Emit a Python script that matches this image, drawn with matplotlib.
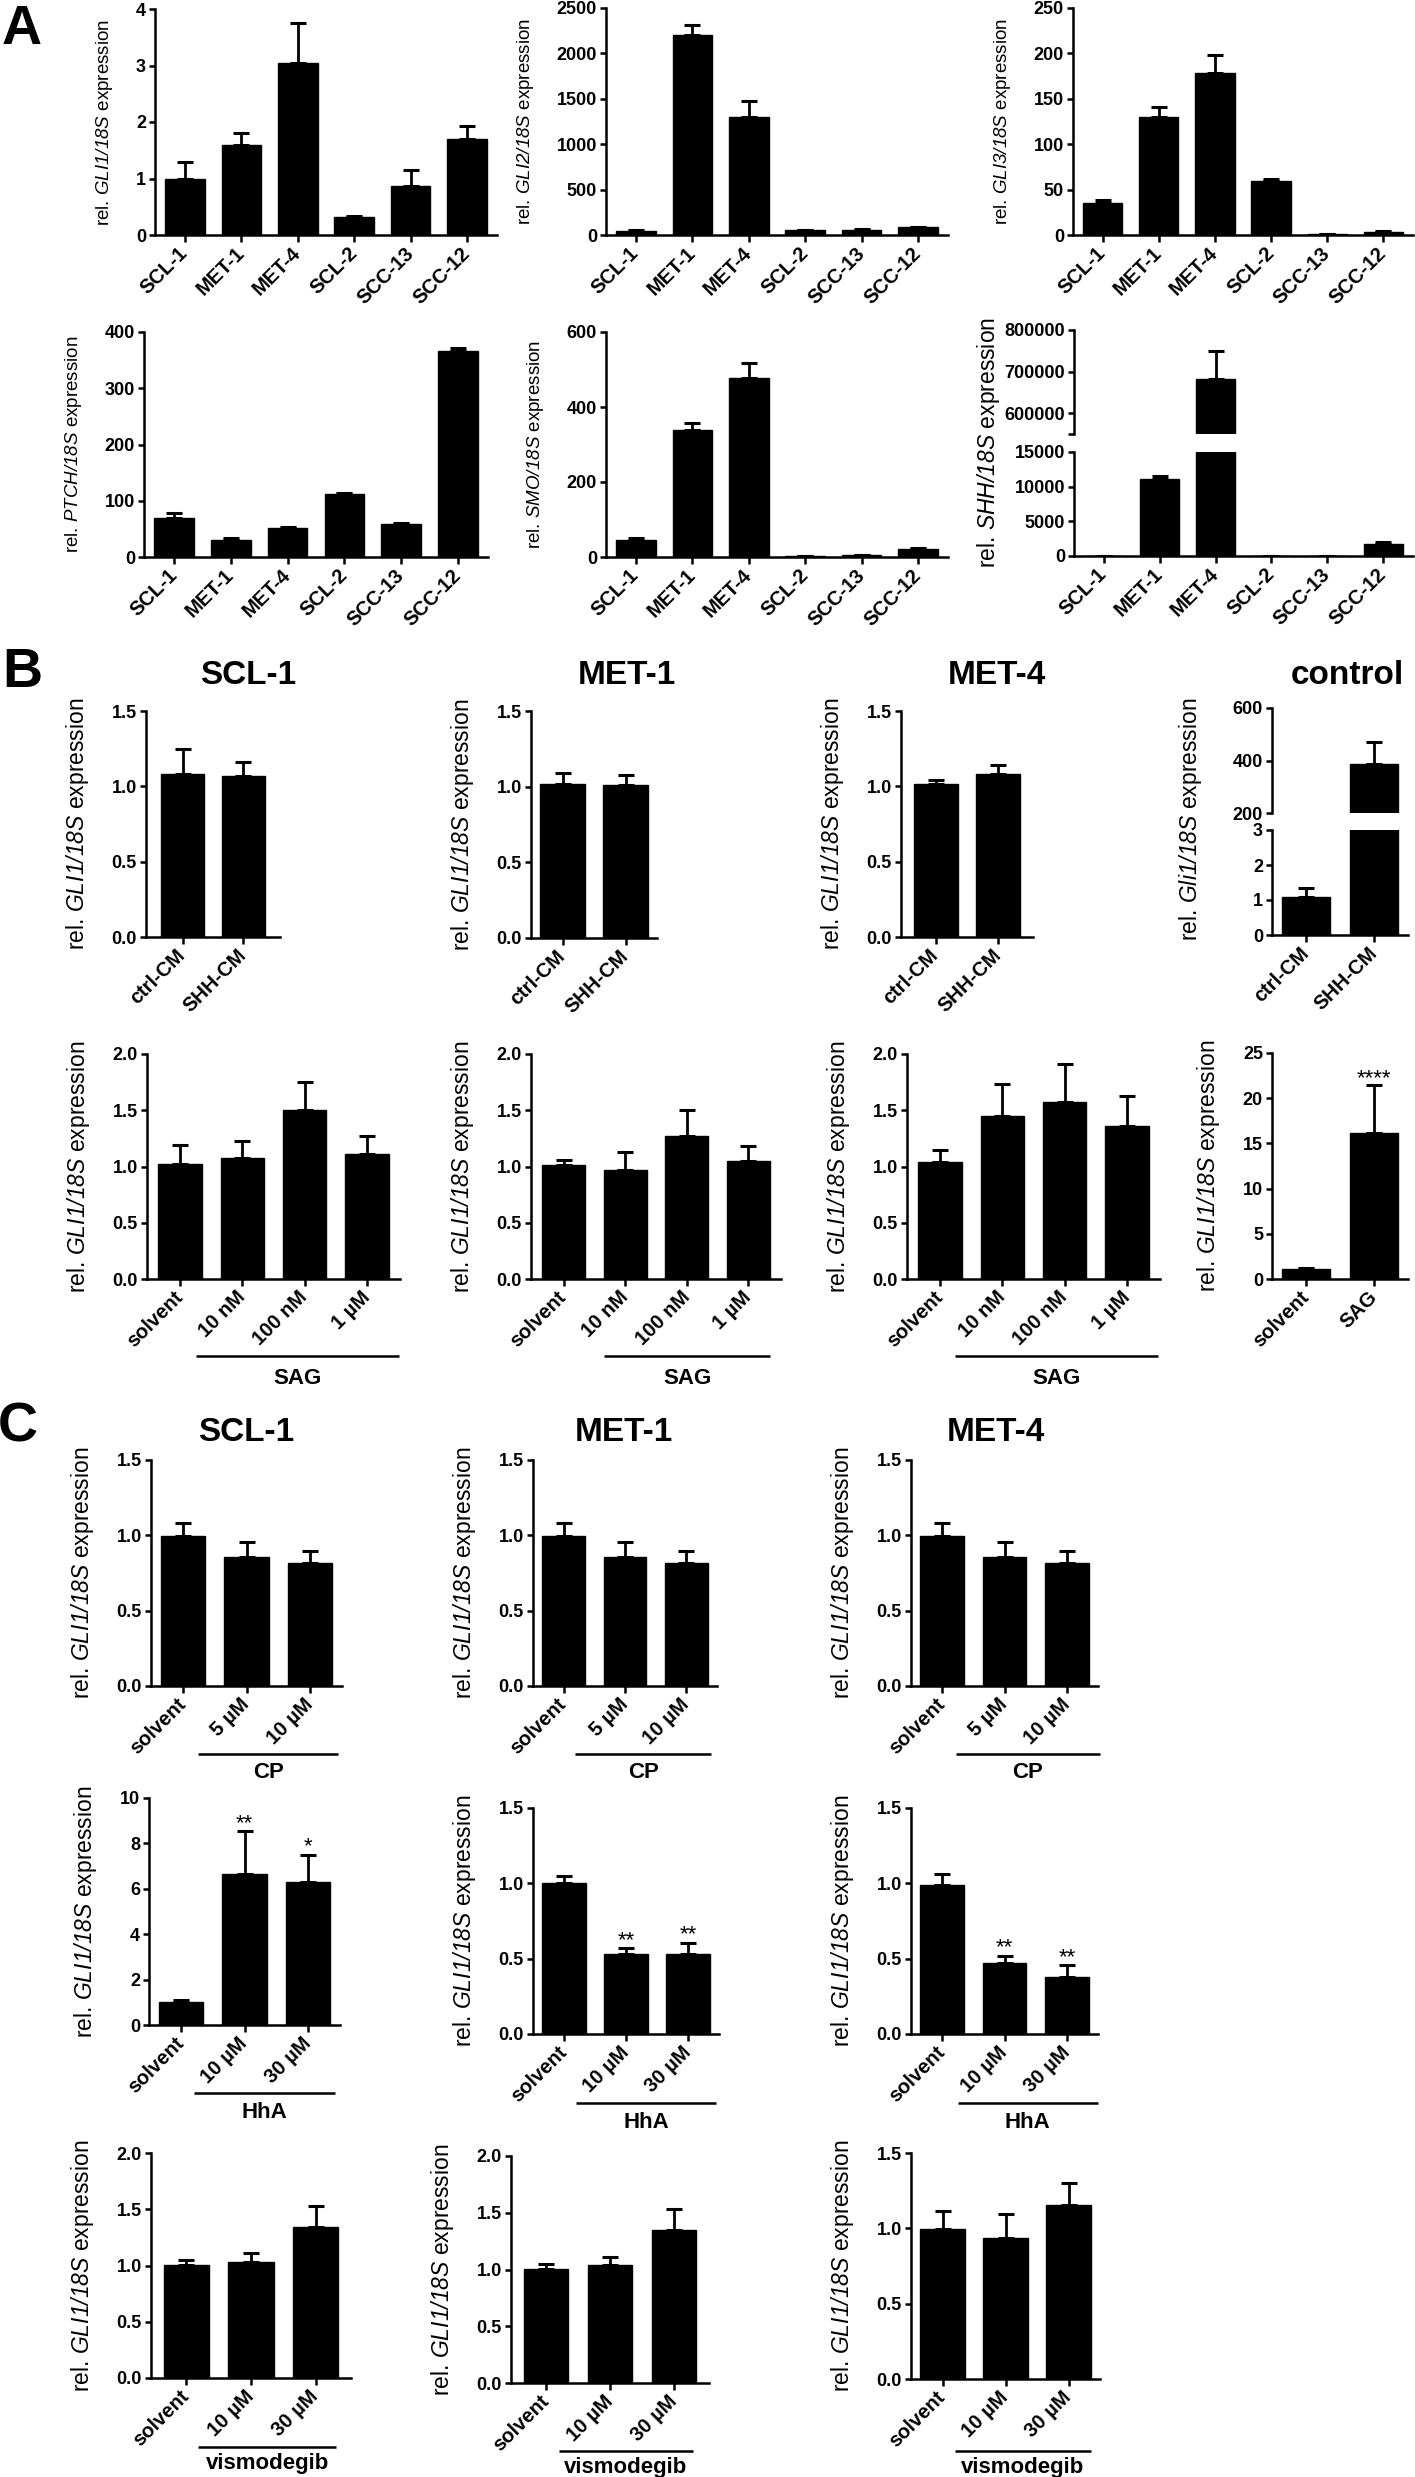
import numpy as np
import matplotlib
matplotlib.use("Agg")
import matplotlib.pyplot as plt
from matplotlib.transforms import blended_transform_factory

plt.rcParams.update({
    "font.family": "Liberation Sans",
    "mathtext.fontset": "custom",
    "mathtext.rm": "Liberation Sans:italic",
    "mathtext.it": "Liberation Sans:italic",
    "mathtext.bf": "Liberation Sans:bold",
    "axes.linewidth": 1.8,
    "xtick.major.width": 1.8,
    "ytick.major.width": 1.8,
    "xtick.major.size": 5,
    "ytick.major.size": 4.5,
})

# ---------------- data ----------------
CELLS_A = ["SCL-1", "MET-1", "MET-4", "SCL-2", "SCC-13", "SCC-12"]
GLI1 = [0.99, 1.60, 3.04, 0.31, 0.87, 1.70]
GLI1_ERR = [0.30, 0.20, 0.71, 0.03, 0.28, 0.23]
GLI2 = [45, 2200, 1300, 50, 55, 85]
GLI2_ERR = [8, 110, 180, 6, 10, 8]
GLI3 = [35, 130, 178, 60, 1, 3.5]
GLI3_ERR = [4, 11, 20, 1.5, 0.5, 1]
PTCH = [70, 31, 51, 112, 59, 367]
PTCH_ERR = [8, 2, 1.5, 1, 2, 5]
SMO = [45, 338, 478, 3, 5, 21]
SMO_ERR = [6, 20, 40, 0.5, 1, 2]
SHH = [5, 11100, 682000, 5, 40, 1730]
SHH_ERR = [0, 500, 68000, 0, 0, 240]

CM = ["ctrl-CM", "SHH-CM"]
CM_SCL1 = [1.08, 1.07]
CM_SCL1_ERR = [0.165, 0.09]
CM_MET1 = [1.02, 1.01]
CM_MET1_ERR = [0.07, 0.07]
CM_MET4 = [1.015, 1.08]
CM_MET4_ERR = [0.025, 0.06]
CM_CTRL = [1.09, 386]
CM_CTRL_ERR = [0.24, 86]

SAG_DOSES = ["solvent", "10 nM", "100 nM", "1 µM"]
SAG_SCL1 = [1.02, 1.08, 1.50, 1.11]
SAG_SCL1_ERR = [0.17, 0.15, 0.25, 0.16]
SAG_MET1 = [1.01, 0.97, 1.27, 1.05]
SAG_MET1_ERR = [0.05, 0.16, 0.23, 0.13]
SAG_MET4 = [1.04, 1.45, 1.57, 1.36]
SAG_MET4_ERR = [0.11, 0.28, 0.34, 0.27]
SAG_CTRL_LABELS = ["solvent", "SAG"]
SAG_CTRL = [1.1, 16.2]
SAG_CTRL_ERR = [0.08, 5.3]

CP_DOSES = ["solvent", "5 µM", "10 µM"]
CP_SCL1 = [0.995, 0.857, 0.817]
CP_SCL1_ERR = [0.085, 0.10, 0.077]
CP_MET1 = [0.995, 0.857, 0.817]
CP_MET1_ERR = [0.085, 0.10, 0.077]
CP_MET4 = [0.995, 0.857, 0.817]
CP_MET4_ERR = [0.085, 0.10, 0.077]

UM_DOSES = ["solvent", "10 µM", "30 µM"]
HHA_SCL1 = [1.0, 6.66, 6.29]
HHA_SCL1_ERR = [0.10, 1.87, 1.21]
HHA_MET1 = [1.004, 0.53, 0.53]
HHA_MET1_ERR = [0.046, 0.039, 0.076]
HHA_MET4 = [0.99, 0.47, 0.378]
HHA_MET4_ERR = [0.075, 0.05, 0.078]
HHA_SCL1_SIG = ["", "**", "*"]
HHA_MET1_SIG = ["", "**", "**"]
HHA_MET4_SIG = ["", "**", "**"]

VIS_SCL1 = [1.006, 1.035, 1.346]
VIS_SCL1_ERR = [0.044, 0.075, 0.184]
VIS_MET1 = [1.003, 1.04, 1.35]
VIS_MET1_ERR = [0.044, 0.07, 0.18]
VIS_MET4 = [0.996, 0.938, 1.155]
VIS_MET4_ERR = [0.119, 0.155, 0.145]

# ---------------- layout helpers ----------------
W, H = 1415, 2477
fig = plt.figure(figsize=(W / 100, H / 100), dpi=100)

TICK_FS = 13
XT_FS = 14.5
YL_SMALL = 13.5
YL_BIG = 16.5
GRP_FS = 16


def box(l, t, r, b):
    return fig.add_axes([l / W, 1 - b / H, (r - l) / W, (b - t) / H])


def style_axes(ax, n, pad=0.53, bottom=True):
    for s in ("top", "right"):
        ax.spines[s].set_visible(False)
    ax.set_xlim(-pad, n - 1 + pad)
    ax.tick_params(axis="y", direction="out", labelsize=TICK_FS, pad=2)
    if not bottom:
        ax.spines["bottom"].set_visible(False)
        ax.tick_params(axis="x", bottom=False, labelbottom=False)


def draw_bars(ax, vals, errs):
    x = np.arange(len(vals))
    ax.bar(x, vals, width=0.7, color="black", edgecolor="black", zorder=2)
    ax.errorbar(x, vals, yerr=[np.zeros(len(errs)), errs], fmt="none",
                ecolor="black", elinewidth=2.0, capsize=5.5, capthick=2.2,
                zorder=1)
    return x


def set_y(ax, ylim, ticks, fmt="{:g}", labels=None):
    ax.set_ylim(*ylim)
    ax.set_yticks(ticks)
    if labels is None:
        labels = [fmt.format(t) for t in ticks]
    ax.set_yticklabels(labels, fontweight="bold", fontsize=TICK_FS)


def set_x(ax, labels):
    ax.set_xticks(np.arange(len(labels)))
    ax.set_xticklabels(labels, rotation=45, ha="right", va="center",
                       rotation_mode="anchor", fontweight="bold",
                       fontsize=XT_FS)
    ax.tick_params(axis="x", direction="out", pad=6)


def gene_label(gene):
    return r"rel. $" + gene + "/18S$ expression"


def ylabel(ax, gene, size, pad=15):
    ax.set_ylabel(gene_label(gene), fontsize=size, labelpad=pad)


def fig_ylabel(xpx, ypx, gene, size):
    fig.text(xpx / W, 1 - ypx / H, gene_label(gene), rotation=90,
             ha="center", va="center", fontsize=size)


def simple_panel(pos, labels, vals, errs, ylim, ticks, gene, size,
                 fmt="{:g}", pad=0.53):
    ax = box(*pos)
    draw_bars(ax, vals, errs)
    style_axes(ax, len(vals), pad=pad)
    set_y(ax, ylim, ticks, fmt)
    set_x(ax, labels)
    ylabel(ax, gene, size)
    return ax


def group(ax, x0, x1, y_line, label, y_text):
    tr = blended_transform_factory(ax.transData, fig.transFigure)
    ax.plot([x0, x1], [1 - y_line / H] * 2, transform=tr, color="black",
            lw=1.8, clip_on=False, solid_capstyle="butt")
    ax.text((x0 + x1) / 2, 1 - y_text / H, label, transform=tr, ha="center",
            va="center", fontsize=GRP_FS, fontweight="bold")


def stars(ax, vals, errs, sig, dy=0):
    for i, s in enumerate(sig):
        if s:
            ax.annotate(s, (i, vals[i] + errs[i]), xytext=(0, dy),
                        textcoords="offset points", ha="center", va="bottom",
                        fontsize=16)


def title(xpx, ypx, txt):
    fig.text(xpx / W, 1 - ypx / H, txt, ha="center", va="center",
             fontsize=24, fontweight="bold")


def letter(xpx, ypx, txt):
    fig.text(xpx / W, 1 - ypx / H, txt, ha="center", va="center",
             fontsize=40, fontweight="bold")


# ---------------- panel A ----------------
letter(22, 30, "A")
simple_panel((155, 9, 497, 235), CELLS_A, GLI1, GLI1_ERR, (0, 4),
             [0, 1, 2, 3, 4], "GLI1", YL_SMALL)
simple_panel((606, 8, 948, 235), CELLS_A, GLI2, GLI2_ERR, (0, 2500),
             [0, 500, 1000, 1500, 2000, 2500], "GLI2", YL_SMALL)
simple_panel((1073, 8, 1413, 235), CELLS_A, GLI3, GLI3_ERR, (0, 250),
             [0, 50, 100, 150, 200, 250], "GLI3", YL_SMALL)
simple_panel((144, 332, 488, 557), CELLS_A, PTCH, PTCH_ERR, (0, 400),
             [0, 100, 200, 300, 400], "PTCH", YL_SMALL)
simple_panel((606, 332, 948, 557), CELLS_A, SMO, SMO_ERR, (0, 600),
             [0, 200, 400, 600], "SMO", YL_SMALL)

# SHH, broken axis
ax_t = box(1074, 330, 1413, 434)
ax_b = box(1074, 452, 1413, 556)
for ax in (ax_t, ax_b):
    draw_bars(ax, SHH, SHH_ERR)
style_axes(ax_t, len(SHH), bottom=False)
style_axes(ax_b, len(SHH))
set_y(ax_t, (550000, 800000), [550000, 600000, 700000, 800000],
      labels=["", "600000", "700000", "800000"])
set_y(ax_b, (0, 15000), [0, 5000, 10000, 15000])
set_x(ax_b, CELLS_A)
fig_ylabel(988, 443, "SHH", YL_BIG)

# ---------------- panel B ----------------
letter(22, 673, "B")
for xc, name in [(248, "SCL-1"), (627, "MET-1"), (997, "MET-4"),
                 (1347, "control")]:
    title(xc, 675, name)

simple_panel((146, 711, 280, 937), CM, CM_SCL1, CM_SCL1_ERR, (0, 1.5),
             [0, 0.5, 1.0, 1.5], "GLI1", YL_BIG, fmt="{:.1f}", pad=0.6)
simple_panel((531, 711, 657, 938), CM, CM_MET1, CM_MET1_ERR, (0, 1.5),
             [0, 0.5, 1.0, 1.5], "GLI1", YL_BIG, fmt="{:.1f}", pad=0.5)
simple_panel((901, 711, 1033, 937), CM, CM_MET4, CM_MET4_ERR, (0, 1.5),
             [0, 0.5, 1.0, 1.5], "GLI1", YL_BIG, fmt="{:.1f}", pad=0.55)

ax_t = box(1272, 708, 1408, 813)
ax_b = box(1272, 830, 1408, 935)
for ax in (ax_t, ax_b):
    draw_bars(ax, CM_CTRL, CM_CTRL_ERR)
style_axes(ax_t, 2, pad=0.5, bottom=False)
style_axes(ax_b, 2, pad=0.5)
set_y(ax_t, (200, 600), [200, 400, 600])
set_y(ax_b, (0, 3), [0, 1, 2, 3])
set_x(ax_b, CM)
fig_ylabel(1191, 819, "Gli1", YL_BIG)

ax = simple_panel((147, 1054, 400, 1279), SAG_DOSES, SAG_SCL1, SAG_SCL1_ERR,
                  (0, 2.0), [0, 0.5, 1.0, 1.5, 2.0], "GLI1", YL_BIG,
                  fmt="{:.1f}", pad=0.53)
group(ax, 0.26, 3.52, 1356, "SAG", 1378)
ax = simple_panel((531, 1054, 781, 1279), SAG_DOSES, SAG_MET1, SAG_MET1_ERR,
                  (0, 2.0), [0, 0.5, 1.0, 1.5, 2.0], "GLI1", YL_BIG,
                  fmt="{:.1f}", pad=0.53)
group(ax, 0.66, 3.35, 1356, "SAG", 1378)
ax = simple_panel((907, 1054, 1160, 1279), SAG_DOSES, SAG_MET4, SAG_MET4_ERR,
                  (0, 2.0), [0, 0.5, 1.0, 1.5, 2.0], "GLI1", YL_BIG,
                  fmt="{:.1f}", pad=0.53)
group(ax, 0.24, 3.49, 1356, "SAG", 1378)
ax = simple_panel((1272, 1053, 1408, 1279), SAG_CTRL_LABELS, SAG_CTRL,
                  SAG_CTRL_ERR, (0, 25), [0, 5, 10, 15, 20, 25], "GLI1",
                  YL_BIG, pad=0.5)
stars(ax, SAG_CTRL, SAG_CTRL_ERR, ["", "****"], dy=-3)

# ---------------- panel C ----------------
letter(18, 1427, "C")
for xc, name in [(246, "SCL-1"), (624, "MET-1"), (996, "MET-4")]:
    title(xc, 1433, name)

cp_rows = [((151, 1460, 342, 1686), CP_SCL1, CP_SCL1_ERR, (0.24, 2.44)),
           ((533, 1460, 717, 1686), CP_MET1, CP_MET1_ERR, (0.19, 2.41)),
           ((911, 1460, 1098, 1686), CP_MET4, CP_MET4_ERR, (0.22, 2.53))]
for pos, v, e, (g0, g1) in cp_rows:
    ax = simple_panel(pos, CP_DOSES, v, e, (0, 1.5), [0, 0.5, 1.0, 1.5],
                      "GLI1", YL_BIG, fmt="{:.1f}", pad=0.5)
    group(ax, g0, g1, 1754, "CP", 1772)

ax = simple_panel((149, 1798, 340, 2025), UM_DOSES, HHA_SCL1, HHA_SCL1_ERR,
                  (0, 10), [0, 2, 4, 6, 8, 10], "GLI1", YL_BIG, pad=0.5)
stars(ax, HHA_SCL1, HHA_SCL1_ERR, HHA_SCL1_SIG, dy=-2)
group(ax, 0.2, 2.42, 2093, "HhA", 2112)
ax = simple_panel((533, 1808, 719, 2034), UM_DOSES, HHA_MET1, HHA_MET1_ERR,
                  (0, 1.5), [0, 0.5, 1.0, 1.5], "GLI1", YL_BIG,
                  fmt="{:.1f}", pad=0.5)
stars(ax, HHA_MET1, HHA_MET1_ERR, HHA_MET1_SIG, dy=-2)
group(ax, 0.2, 2.45, 2103, "HhA", 2122)
ax = simple_panel((911, 1808, 1098, 2034), UM_DOSES, HHA_MET4, HHA_MET4_ERR,
                  (0, 1.5), [0, 0.5, 1.0, 1.5], "GLI1", YL_BIG,
                  fmt="{:.1f}", pad=0.5)
stars(ax, HHA_MET4, HHA_MET4_ERR, HHA_MET4_SIG, dy=-2)
group(ax, 0.25, 2.5, 2103, "HhA", 2122)

ax = simple_panel((151, 2153, 351, 2378), UM_DOSES, VIS_SCL1, VIS_SCL1_ERR,
                  (0, 2.0), [0, 0.5, 1.0, 1.5, 2.0], "GLI1", YL_BIG,
                  fmt="{:.1f}", pad=0.55)
group(ax, 0.18, 2.32, 2447, "vismodegib", 2464)
ax = simple_panel((511, 2156, 709, 2383), UM_DOSES, VIS_MET1, VIS_MET1_ERR,
                  (0, 2.0), [0, 0.5, 1.0, 1.5, 2.0], "GLI1", YL_BIG,
                  fmt="{:.1f}", pad=0.55)
group(ax, 0.2, 2.3, 2451, "vismodegib", 2467)
ax = simple_panel((911, 2153, 1100, 2379), UM_DOSES, VIS_MET4, VIS_MET4_ERR,
                  (0, 1.5), [0, 0.5, 1.0, 1.5], "GLI1", YL_BIG,
                  fmt="{:.1f}", pad=0.5)
group(ax, 0.2, 2.35, 2451, "vismodegib", 2467)

fig.savefig("out.png", dpi=100, facecolor="white")
